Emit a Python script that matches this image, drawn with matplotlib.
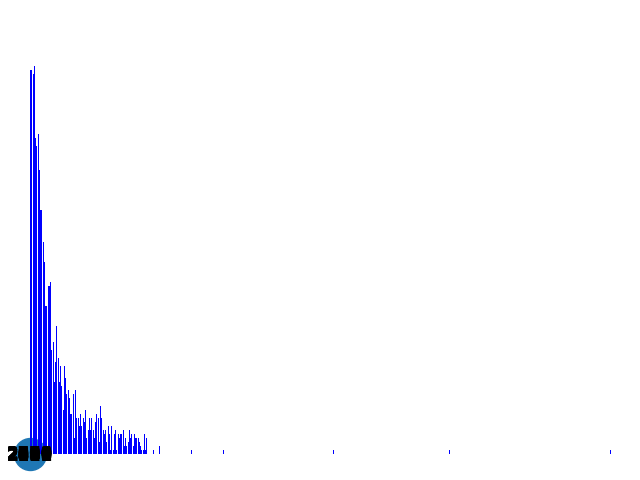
import numpy as np
import matplotlib
matplotlib.use("Agg")
import matplotlib.pyplot as plt

# ------------------------------------ data ------------------------------------
# counts for the dense head of the distribution (bins 0..93)
head_counts = [96, 96, 95, 97, 79, 77, 80, 71, 61, 61, 53, 48, 37, 37, 42, 42,
               43, 26, 28, 18, 23, 32, 24, 18, 22, 17, 11, 22, 19, 15, 16, 14,
               10, 10, 15, 4, 16, 9, 9, 7, 10, 7, 9, 8, 11, 4, 6, 9,
               6, 9, 6, 4, 8, 10, 9, 3, 12, 9, 6, 5, 6, 3, 7, 5,
               1, 7, 1, 5, 6, 1, 5, 4, 5, 5, 6, 2, 4, 2, 3, 6,
               4, 5, 2, 5, 4, 4, 4, 3, 2, 1, 1, 5, 1, 4]
# sparse tail: bin position -> count
tail_bins = [98, 103, 129, 154, 242, 335, 464]
tail_counts = [1, 2, 1, 1, 1, 1, 1]

# overlapping labels drawn at the origin point
origin_labels = ["2000", "2148", "2573", "2691", "2804", "2935",
                 "2316", "2457", "2782", "2069", "2820", "2111"]

# ------------------------------------ plot ------------------------------------
fig = plt.figure(figsize=(6.4, 4.8), dpi=100)
ax = fig.add_axes([0, 0, 1, 1])

x_head = np.arange(len(head_counts))
ax.scatter([0], [0], s=530, color="#1f77b4", zorder=1)   # point at the origin
ax.bar(x_head, head_counts, width=0.85, align="edge", color="blue", zorder=2)
ax.bar(tail_bins, tail_counts, width=0.85, align="edge", color="blue", zorder=2)

# labels pile up on the same spot, alternate the vertical anchor a bit
for i, lab in enumerate(origin_labels):
    va = "center" if i % 2 == 0 else "center_baseline"
    ax.text(0, 0, lab, ha="center", va=va, fontsize=12,
            fontweight="bold", color="black", zorder=3)

ax.set_xlim(-24, 488)
ax.set_ylim(-6.5, 113.5)
ax.axis("off")

fig.savefig("out.png", dpi=100)
